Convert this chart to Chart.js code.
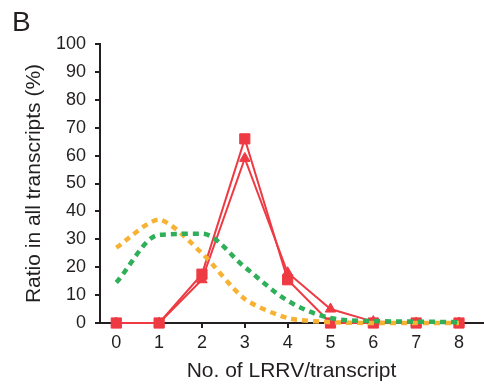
<!DOCTYPE html>
<html>
<head>
<meta charset="utf-8">
<script src="https://cdn.jsdelivr.net/npm/chart.js@4/dist/chart.umd.min.js"></script>
<style>
  html, body { margin: 0; padding: 0; background: #fff; }
  #wrap { width: 484px; height: 390px; position: relative; }
</style>
</head>
<body>
<div id="wrap"><canvas id="c" width="484" height="390"></canvas></div>
<script>
const panelLabel = 'B';
const categories = [0, 1, 2, 3, 4, 5, 6, 7, 8];
const redSquareValues = [0, 0, 17.5, 66, 15.5, 0, 0, 0, 0];
const redTriangleValues = [0, 0, 15.5, 59, 18, 5, 0.5, 0, 0];
const orangeValues = [27, 37, 25, 8.6, 1.8, 0.3, 0, 0, 0];
const greenValues = [14.5, 31.6, 32, 20, 8, 1.8, 0.7, 0.5, 0.3];
const xTitle = 'No. of LRRV/transcript';
const yTitle = 'Ratio in all transcripts (%)';

const FONT = '"Liberation Sans", Arial, Helvetica, sans-serif';
const INK = '#231f20';
const RED = '#ee3a43';
const ORANGE = '#f7b234';
const GREEN = '#2eaf58';

function pts(vals) { return categories.map((c, i) => ({ x: c, y: vals[i] })); }

const panelPlugin = {
  id: 'panelLabel',
  afterDraw(chart) {
    const ctx = chart.ctx;
    ctx.save();
    ctx.fillStyle = INK;
    ctx.font = '28px ' + FONT;
    ctx.textBaseline = 'alphabetic';
    ctx.textAlign = 'left';
    ctx.fillText(panelLabel, 12, 31);
    ctx.restore();
  }
};

new Chart(document.getElementById('c'), {
  type: 'line',
  data: {
    datasets: [
      { label: 'green', data: pts(greenValues), borderColor: GREEN, borderWidth: 4.5,
        borderDash: [6, 5], cubicInterpolationMode: 'monotone', pointRadius: 0, fill: false, clip: false },
      { label: 'orange', data: pts(orangeValues), borderColor: ORANGE, borderWidth: 4.5,
        borderDash: [6, 5], tension: 0.25, pointRadius: 0, fill: false, clip: false },
      { label: 'triangle', data: pts(redTriangleValues), borderColor: RED, borderWidth: 2,
        tension: 0, pointStyle: 'triangle', pointRadius: 6, pointBackgroundColor: RED,
        pointBorderColor: RED, pointBorderWidth: 1, fill: false, clip: false },
      { label: 'square', data: pts(redSquareValues), borderColor: RED, borderWidth: 2,
        tension: 0, pointStyle: 'rect', pointRadius: 7.2, pointBackgroundColor: RED,
        pointBorderColor: RED, pointBorderWidth: 1, fill: false, clip: false }
    ]
  },
  options: {
    responsive: false,
    animation: false,
    devicePixelRatio: 1,
    layout: { autoPadding: false, padding: { top: 44, right: 1, left: 0, bottom: 0 } },
    plugins: { legend: { display: false }, tooltip: { enabled: false }, title: { display: false } },
    scales: {
      x: {
        type: 'linear',
        min: -0.38,
        max: 8.56,
        afterFit(s) { s.height = 67; s.paddingRight = 0; s.paddingLeft = 0; },
        border: { display: true, color: INK, width: 2 },
        grid: { display: true, drawOnChartArea: false, drawTicks: true, tickLength: 5, color: INK, lineWidth: 2 },
        ticks: { stepSize: 1, includeBounds: false, padding: 4, color: INK, font: { family: FONT, size: 18 },
                 callback: v => String(v) },
        title: { display: true, text: xTitle, color: INK, font: { family: FONT, size: 21 }, padding: { top: 2, bottom: 6 } }
      },
      y: {
        type: 'linear',
        min: 0,
        max: 100,
        afterFit(s) { s.width = 100; },
        border: { display: true, color: INK, width: 2 },
        grid: { display: true, drawOnChartArea: false, drawTicks: true, tickLength: 5, color: INK, lineWidth: 2 },
        ticks: { stepSize: 10, padding: 9, color: INK, font: { family: FONT, size: 18 } },
        title: { display: true, text: yTitle, color: INK, font: { family: FONT, size: 21 }, padding: { top: 22, bottom: 0 } }
      }
    }
  },
  plugins: [panelPlugin]
});
</script>
</body>
</html>
